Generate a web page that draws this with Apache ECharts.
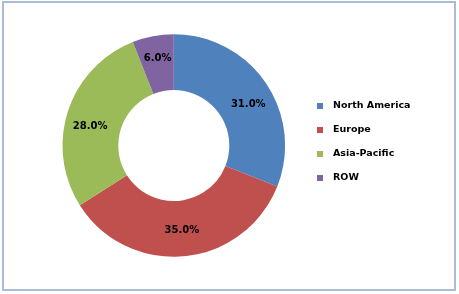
<!DOCTYPE html>
<html><head><meta charset="utf-8">
<script src="https://cdn.jsdelivr.net/npm/echarts@6/dist/echarts.min.js"></script>
<style>html,body{margin:0;padding:0;background:#fff}#c{width:459px;height:294px}
#frame{position:absolute;left:2px;top:1px;width:450px;height:286px;border:2px solid #A9BDD8;pointer-events:none}</style>
</head><body><div id="c"></div><div id="frame"></div>
<script>
const categories = ['North America', 'Europe', 'Asia-Pacific', 'ROW'];
const values = [31.0, 35.0, 28.0, 6.0];
const colors = ['#4F81BD', '#C0504D', '#9BBB59', '#8064A2'];
// small label nudges (styling only) to mimic the original label placement
const labelNudges = [[3, 7], [0, -1], [-1.5, 7.5], [0, -2]];
const chart = echarts.init(document.getElementById('c'));
chart.setOption({
  animation: false,
  color: colors,
  legend: {
    orient: 'vertical', left: 312, top: 96,
    itemWidth: 6, itemHeight: 6, itemGap: 14, icon: 'rect',
    textStyle: {fontFamily: 'DejaVu Sans', fontWeight: 'bold', fontSize: 9.5, color: '#000', padding: [0,0,0,5]},
    data: categories
  },
  series: [{
    type: 'pie', center: [173.8, 145.5], radius: [55.5, 111.3],
    startAngle: 90, clockwise: true,
    label: {position: 'inside', formatter: p => p.value.toFixed(1) + '%',
      fontFamily: 'DejaVu Sans', fontWeight: 'bold', fontSize: 10, color: '#000'},
    labelLine: {show: false},
    itemStyle: {borderWidth: 0},
    emphasis: {disabled: true},
    data: categories.map((c, i) => ({name: c, value: values[i], label: {offset: labelNudges[i]}}))
  }]
});
</script></body></html>
